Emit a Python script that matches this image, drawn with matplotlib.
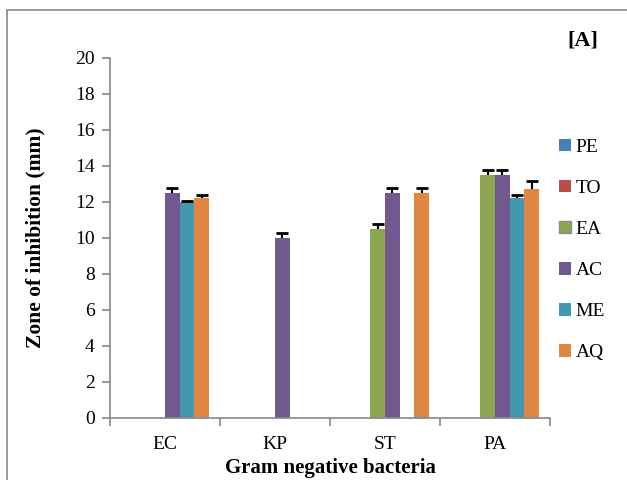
import numpy as np
import matplotlib
matplotlib.use("Agg")
import matplotlib.pyplot as plt
from matplotlib.patches import Rectangle

# data
categories = ["EC", "KP", "ST", "PA"]
series = ["PE", "TO", "EA", "AC", "ME", "AQ"]
pe = [0, 0, 0, 0]
to = [0, 0, 0, 0]
ea = [0, 0, 10.5, 13.5]
ac = [12.5, 10.0, 12.5, 13.5]
me = [12.0, 0, 0, 12.2]
aq = [12.2, 0, 12.5, 12.7]
pe_err = [0, 0, 0, 0]
to_err = [0, 0, 0, 0]
ea_err = [0, 0, 0.3, 0.3]
ac_err = [0.3, 0.3, 0.3, 0.3]
me_err = [0.05, 0, 0, 0.2]
aq_err = [0.2, 0, 0.3, 0.45]

values = [pe, to, ea, ac, me, aq]
errors = [pe_err, to_err, ea_err, ac_err, me_err, aq_err]
colors = ["#4A7EBB", "#BE4B48", "#8AA64E", "#71588F", "#4198AF", "#DF8640"]
show_zero = [False, False, True, True, True, True]

plt.rcParams["font.family"] = ["Liberation Serif", "DejaVu Serif"]

fig = plt.figure(figsize=(6.27, 4.8), dpi=100)
ax = fig.add_axes([110/627, 1-418/480, 440/627, 360/480])

x = np.arange(len(categories))
group = 0.8
w = group / len(series)

handles = []
for i, name in enumerate(series):
    pos = x - group/2 + w*i + w/2
    vals = np.array(values[i], dtype=float)
    edges = ["#8c8c8c" if (v == 0 and show_zero[i]) else "none" for v in vals]
    b = ax.bar(pos, vals, w, color=colors[i], edgecolor=edges, linewidth=1.0,
               label=name, zorder=2)
    handles.append(b)
    # upper half error bars only (T shape)
    err = np.array(errors[i], dtype=float)
    mask = vals > 0
    if mask.any():
        top = vals[mask] + err[mask]
        ax.vlines(pos[mask], vals[mask], top, colors="black", linewidth=1.5, zorder=3)
        ax.hlines(top, pos[mask] - w*0.4, pos[mask] + w*0.4, colors="black",
                  linewidth=2, zorder=3)

ax.set_xlim(-0.5, len(categories) - 0.5)
ax.set_ylim(0, 20)
ax.set_yticks(np.arange(0, 21, 2))
ax.set_xticks(x)
ax.set_xticklabels(categories, fontsize=14)
ax.set_xticks(np.arange(-0.5, len(categories), 1), minor=True)
ax.tick_params(axis="x", which="major", length=0, pad=13)
ax.tick_params(axis="x", which="minor", length=6, color="#888888", width=1.2)
ax.tick_params(axis="y", length=6, color="#888888", width=1.2, labelsize=14, pad=5)

for s in ["top", "right"]:
    ax.spines[s].set_visible(False)
for s in ["left", "bottom"]:
    ax.spines[s].set_color("#888888")
    ax.spines[s].set_linewidth(1.2)

ax.set_ylabel("Zone of inhibition (mm)", fontsize=15.5, fontweight="bold")
ax.set_xlabel("Gram negative bacteria", fontsize=15, fontweight="bold")
ax.yaxis.set_label_coords((45 - 110) / 440, 0.5)
ax.xaxis.set_label_coords(0.5, (418 - 458) / 360)

leg = fig.legend(handles=handles, loc="upper left", bbox_to_anchor=(551/627, 1-131/480),
                 frameon=False, fontsize=14, handlelength=0.62, handleheight=0.62,
                 handletextpad=0.25, labelspacing=1.23, borderaxespad=0)

fig.text(583/627, 1-40/480, "[A]", fontsize=16, fontweight="bold", ha="center", va="center")

fig.patches.append(Rectangle((7/627, -0.1), 1.2, 1-10/480+0.1, transform=fig.transFigure,
                             fill=False, edgecolor="#888888", linewidth=1.2))

fig.savefig("out.png", dpi=100)
